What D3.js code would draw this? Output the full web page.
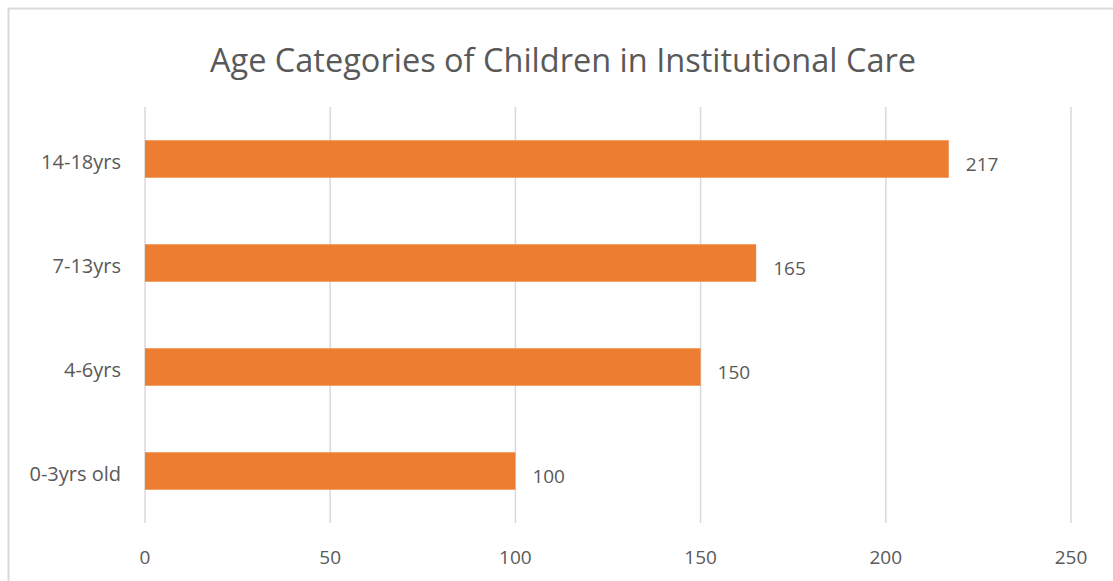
<!DOCTYPE html>
<html>
<head>
<meta charset="utf-8">
<script src="https://cdn.jsdelivr.net/npm/d3@7"></script>
<style>
  html, body { margin: 0; padding: 0; background: #fff; }
  svg { display: block; }
  text { font-family: "Open Sans", "Noto Sans", sans-serif; fill: #595959; }
</style>
</head>
<body>
<svg id="chart" width="1113" height="581"></svg>
<script>
// Children in institutional care by age group
const categories = ["0-3yrs old", "4-6yrs", "7-13yrs", "14-18yrs"];
const counts = [100, 150, 165, 217];
const xTicks = [0, 50, 100, 150, 200, 250];
const chartTitle = "Age Categories of Children in Institutional Care";

const svg = d3.select("#chart");
const W = 1113, H = 581;
const plot = { left: 145, right: 1071, top: 107, bottom: 523 };

// Chart frame
svg.append("rect")
  .attr("x", 8.5).attr("y", 8.5)
  .attr("width", W + 10).attr("height", H + 10)
  .attr("fill", "#fff")
  .attr("stroke", "#d9d9d9").attr("stroke-width", 2);

const x = d3.scaleLinear().domain([0, 250]).range([plot.left, plot.right]);
const y = d3.scaleBand()
  .domain(categories.slice().reverse())
  .range([plot.top, plot.bottom])
  .paddingInner(0.64).paddingOuter(0.32);

// Vertical gridlines
svg.append("g")
  .selectAll("line")
  .data(xTicks)
  .join("line")
  .attr("x1", d => x(d)).attr("x2", d => x(d))
  .attr("y1", plot.top).attr("y2", plot.bottom)
  .attr("stroke", "#d9d9d9").attr("stroke-width", 1.5);

// Bars
svg.append("g")
  .selectAll("rect")
  .data(categories)
  .join("rect")
  .attr("x", x(0))
  .attr("y", d => y(d))
  .attr("width", (d, i) => x(counts[i]) - x(0))
  .attr("height", y.bandwidth())
  .attr("fill", "#ED7D31");

// Value labels
svg.append("g")
  .selectAll("text")
  .data(categories)
  .join("text")
  .attr("x", (d, i) => x(counts[i]) + 17)
  .attr("y", d => y(d) + y.bandwidth() / 2 + 5)
  .attr("dy", "0.35em")
  .style("font-size", "19px")
  .text((d, i) => counts[i]);

// Category axis labels
svg.append("g")
  .selectAll("text")
  .data(categories)
  .join("text")
  .attr("x", 121)
  .attr("y", d => y(d) + y.bandwidth() / 2 + 3)
  .attr("dy", "0.35em")
  .attr("text-anchor", "end")
  .style("font-size", "20px")
  .text(d => d);

// Value axis tick labels
svg.append("g")
  .selectAll("text")
  .data(xTicks)
  .join("text")
  .attr("x", d => x(d))
  .attr("y", 557)
  .attr("dy", "0.35em")
  .attr("text-anchor", "middle")
  .style("font-size", "19px")
  .text(d => d);

// Title
svg.append("text")
  .attr("x", 563)
  .attr("y", 61)
  .attr("dy", "0.35em")
  .attr("text-anchor", "middle")
  .style("font-size", "32.5px")
  .text(chartTitle);
</script>
</body>
</html>
